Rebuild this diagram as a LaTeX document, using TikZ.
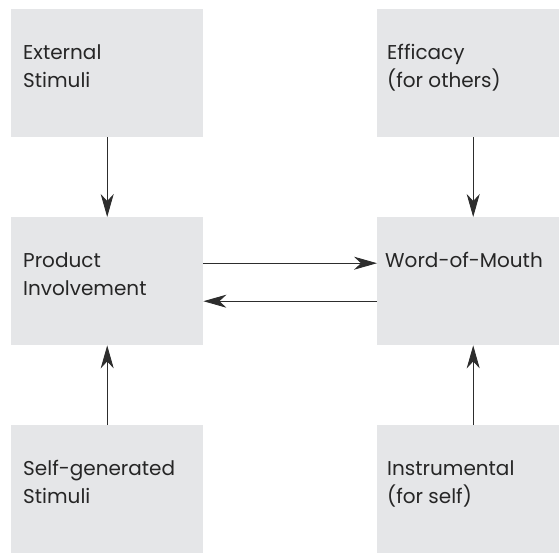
\documentclass[tikz,border=0pt]{standalone}
\usepackage{fontspec}
\setmainfont{Poppins}
\usetikzlibrary{arrows.meta}
\definecolor{boxgray}{RGB}{229,230,232}
\definecolor{linegray}{RGB}{45,45,45}
\newcommand{\firststrut}{\rule{0pt}{20pt}}
\begin{document}
\begin{tikzpicture}[x=1pt,y=1pt,
  box/.style={fill=boxgray, draw=none, minimum width=192pt, minimum height=128pt, inner sep=0pt, anchor=north west},
  lbl/.style={anchor=north west, inner sep=0pt, align=left, text=black!85, font=\fontsize{20}{28}\selectfont},
  arr/.style={draw=linegray, line width=0.9pt, -{Stealth[length=23pt,width=13pt,inset=7pt]}}]
\useasboundingbox (0,0) rectangle (559,-552);
\clip (0,0) rectangle (559,-552);
\node[box] (ext) at (11,-9) {};
\node[box] (eff) at (377,-9) {};
\node[box] (prod) at (11,-217) {};
\node[box] (wom) at (377,-217) {};
\node[box] (selfg) at (11,-425) {};
\node[box] (instr) at (377,-425) {};
\node[lbl] (extT) at ([shift={(12,-30)}]ext.north west) {\firststrut External\\Stimuli};
\node[lbl] (effT) at ([shift={(10,-30)}]eff.north west) {\firststrut Efficacy\\(for others)};
\node[lbl] (prodT) at ([shift={(12,-30)}]prod.north west) {\firststrut Product\\Involvement};
\node[lbl] (womT) at ([shift={(8,-30)}]wom.north west) {\firststrut Word-of-Mouth};
\node[lbl] (selfgT) at ([shift={(12,-30)}]selfg.north west) {\firststrut Self-generated\\Stimuli};
\node[lbl] (instrT) at ([shift={(10,-30)}]instr.north west) {\firststrut Instrumental\\(for self)};
\draw[arr] (ext.south) -- (prod.north);
\draw[arr] (eff.south) -- (wom.north);
\draw[arr] (selfg.north) -- (prod.south);
\draw[arr] (instr.north) -- (wom.south);
\draw[arr] ([yshift=18pt]prod.east) -- ([yshift=18pt]wom.west);
\draw[arr] ([yshift=-20pt]wom.west) -- ([yshift=-20pt]prod.east);
\end{tikzpicture}
\end{document}
